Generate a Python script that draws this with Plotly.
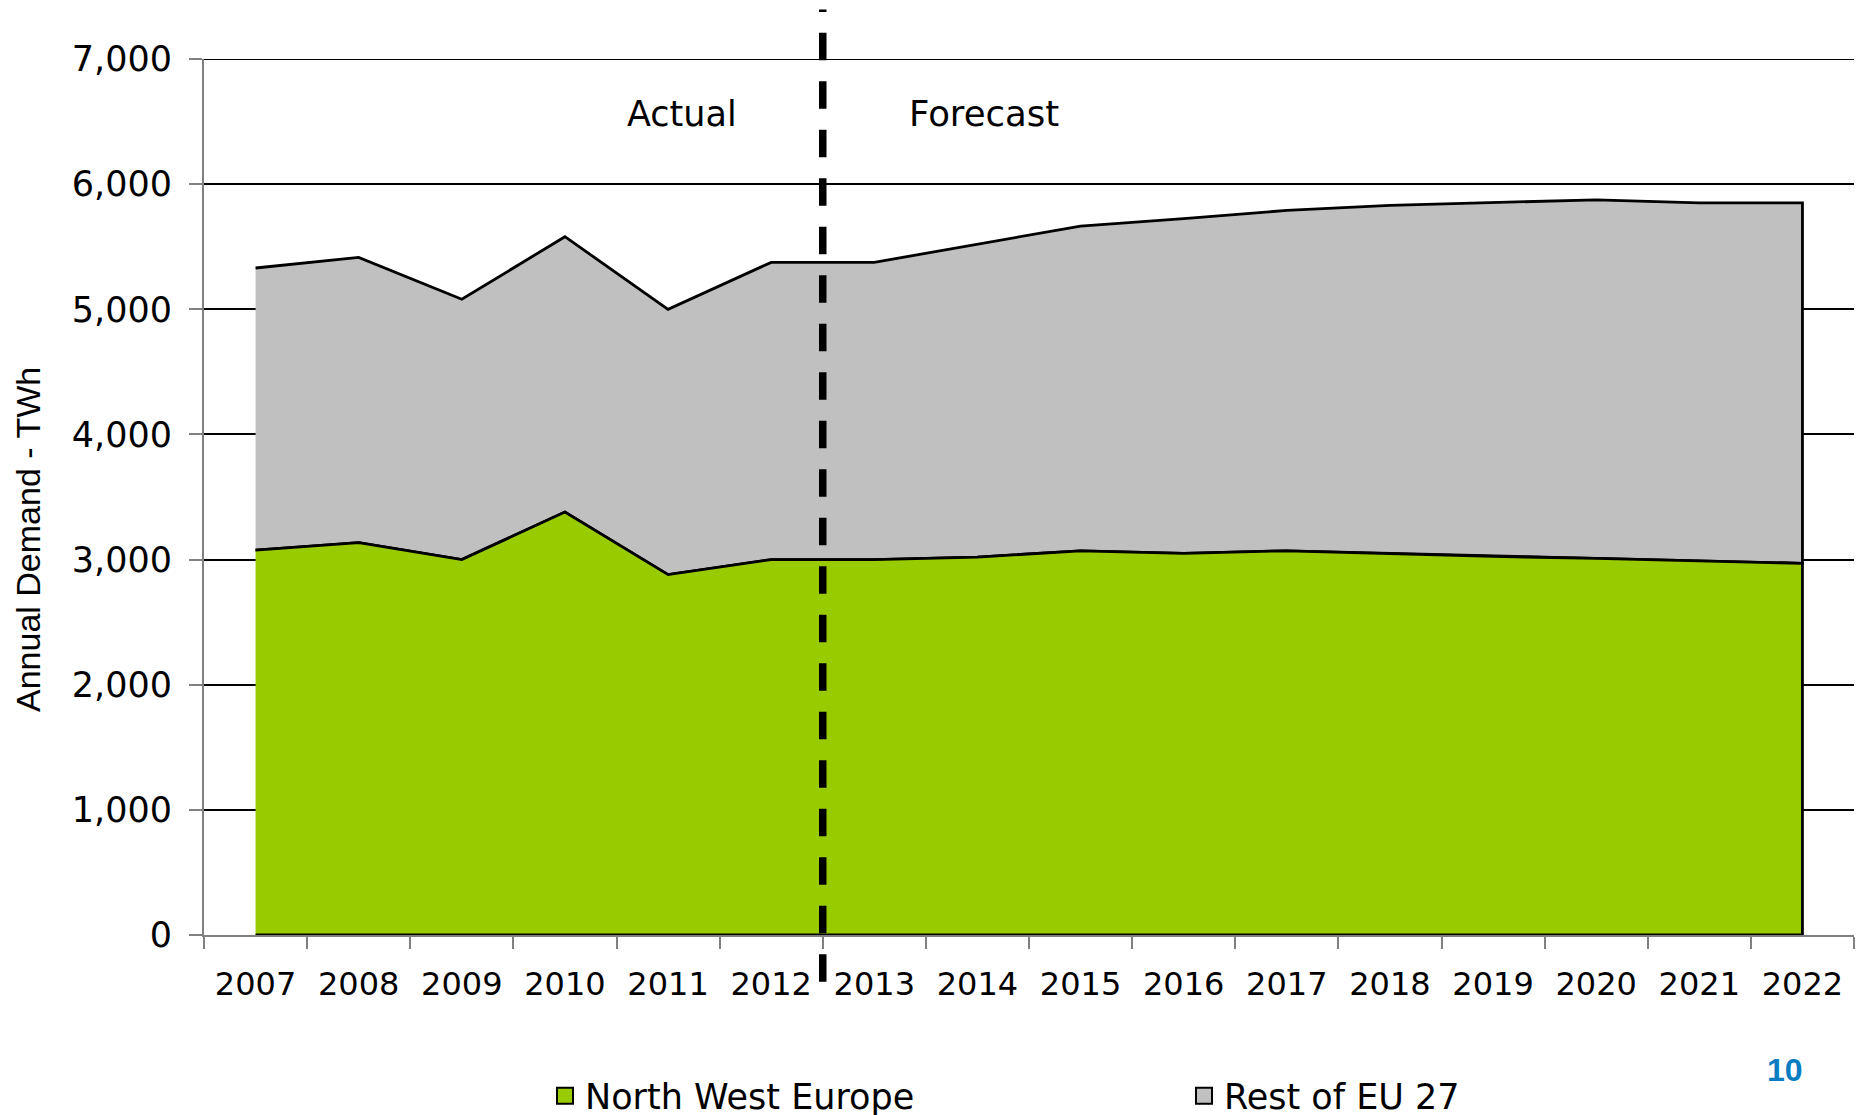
import plotly.graph_objects as go

years = ["2007", "2008", "2009", "2010", "2011", "2012", "2013", "2014",
         "2015", "2016", "2017", "2018", "2019", "2020", "2021", "2022"]
north_west_europe = [3075, 3135, 3000, 3380, 2880, 3000, 3000, 3020,
                     3070, 3050, 3070, 3045, 3025, 3010, 2990, 2970]
total_eu27 = [5330, 5415, 5080, 5580, 5000, 5375, 5375, 5520,
              5665, 5725, 5790, 5830, 5855, 5875, 5850, 5850]
y_ticks = [0, 1000, 2000, 3000, 4000, 5000, 6000, 7000]

GREEN = "#99CC00"
GREY = "#C0C0C0"
FONT = "DejaVu Sans, Verdana, sans-serif"
FONT_ARIAL = "Liberation Sans, Arial, sans-serif"

W, H = 1856, 1130          # page is 1115 tall; extra room keeps the legend unclipped
PLOT_BOTTOM = 935
ML, MR, MT = 204, 2, 59
MB = H - PLOT_BOTTOM
PW = W - ML - MR
PH = H - MT - MB


def px_to_paper_x(px):
    return (px - ML) / PW


def px_to_paper_y(py):
    return (PLOT_BOTTOM - py) / PH


fig = go.Figure()

# Rest of EU 27 band: between NWE and total
fig.add_trace(go.Scatter(
    x=years + years[::-1],
    y=total_eu27 + north_west_europe[::-1],
    fill="toself", fillcolor=GREY, mode="lines",
    line=dict(color="black", width=2.8),
    showlegend=False, hoverinfo="skip"))

# North West Europe band: from 0 to NWE
fig.add_trace(go.Scatter(
    x=years + [years[-1], years[0]],
    y=north_west_europe + [0, 0],
    fill="toself", fillcolor=GREEN, mode="lines",
    line=dict(color="black", width=2.8),
    showlegend=False, hoverinfo="skip"))

# legend entries
fig.add_trace(go.Scatter(x=[None], y=[None], mode="markers", name="North West Europe",
                         marker=dict(symbol="square", size=22, color=GREEN,
                                     line=dict(color="black", width=2))))
fig.add_trace(go.Scatter(x=[None], y=[None], mode="markers", name="Rest of EU 27",
                         marker=dict(symbol="square", size=22, color=GREY,
                                     line=dict(color="black", width=2))))

# top gridline at 7,000
fig.add_shape(type="line", xref="paper", yref="y", x0=0, x1=1, y0=7000, y1=7000,
              line=dict(color="black", width=2), layer="below")

# dashed separator between actual and forecast
xsep = 6 / 16
fig.add_shape(type="line", xref="paper", yref="paper",
              x0=xsep, x1=xsep, y0=px_to_paper_y(32.7), y1=px_to_paper_y(986),
              line=dict(color="black", width=7.5, dash="27.5px,21px"), layer="above")
fig.add_shape(type="line", xref="paper", yref="paper",
              x0=xsep, x1=xsep, y0=px_to_paper_y(9.5), y1=px_to_paper_y(12),
              line=dict(color="black", width=7.5), layer="above")

fig.add_annotation(text="Actual", xref="paper", yref="paper",
                   x=px_to_paper_x(682), y=px_to_paper_y(114),
                   showarrow=False, font=dict(family=FONT, size=35, color="black"),
                   xanchor="center", yanchor="middle")
fig.add_annotation(text="Forecast", xref="paper", yref="paper",
                   x=px_to_paper_x(984), y=px_to_paper_y(114),
                   showarrow=False, font=dict(family=FONT, size=35.5, color="black"),
                   xanchor="center", yanchor="middle")
fig.add_annotation(text="Annual Demand - TWh", xref="paper", yref="paper",
                   x=px_to_paper_x(28), y=px_to_paper_y(540), textangle=-90,
                   showarrow=False, font=dict(family=FONT_ARIAL, size=34, color="black"),
                   xanchor="center", yanchor="middle")
fig.add_annotation(text="<b>10</b>", xref="paper", yref="paper",
                   x=px_to_paper_x(1785), y=px_to_paper_y(1070),
                   showarrow=False, font=dict(family=FONT_ARIAL, size=32, color="#0A7DC2"),
                   xanchor="center", yanchor="middle")

fig.update_layout(
    width=W, height=H,
    margin=dict(l=ML, r=MR, t=MT, b=MB, pad=0, autoexpand=False),
    paper_bgcolor="white", plot_bgcolor="white",
    font=dict(family=FONT, color="black"),
    showlegend=True,
    legend=dict(orientation="h", x=px_to_paper_x(545), y=px_to_paper_y(1096),
                xanchor="left", yanchor="middle",
                font=dict(family=FONT, size=35, color="black"),
                entrywidthmode="pixels", entrywidth=594,
                bgcolor="rgba(0,0,0,0)"),
    xaxis=dict(type="category", categoryorder="array", categoryarray=years,
               range=[-0.5, 15.5], showgrid=False, zeroline=False,
               showline=True, linecolor="#808080", linewidth=2,
               ticks="outside", tickson="boundaries", ticklen=12,
               tickcolor="#808080", tickwidth=2,
               tickfont=dict(family=FONT, size=32, color="black"),
               ticklabelstandoff=20),
    yaxis=dict(range=[0, 7000], tickvals=y_ticks, tickformat=",",
               showgrid=True, gridcolor="black", gridwidth=2,
               zeroline=False, showline=True, linecolor="#808080", linewidth=2,
               ticks="outside", ticklen=13, tickcolor="#808080", tickwidth=2,
               tickfont=dict(family=FONT, size=35, color="black"),
               ticklabelstandoff=10),
)

fig.write_html(
    "out.html",
    config={"displayModeBar": False},
    post_script="document.body.style.margin='0px';document.body.style.overflow='hidden';",
)
